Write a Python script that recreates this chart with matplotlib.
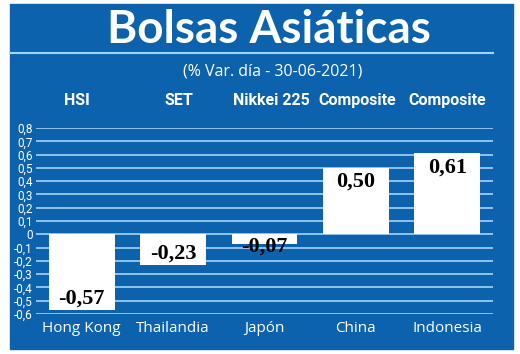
import matplotlib
matplotlib.use("Agg")
import matplotlib.pyplot as plt
from matplotlib.patches import Rectangle
from matplotlib.lines import Line2D
import numpy as np

# Data
countries = ["Hong Kong", "Thailandia", "Japón", "China", "Indonesia"]
indices = ["HSI", "SET", "Nikkei 225", "Composite", "Composite"]
values = [-0.57, -0.23, -0.07, 0.50, 0.61]
yticks = [-0.6, -0.5, -0.4, -0.3, -0.2, -0.1, 0, 0.1, 0.2, 0.3, 0.4, 0.5, 0.6, 0.7, 0.8]

BLUE = "#0d62ad"
GRID = "#a6d3f3"
W, H = 520, 354

fig = plt.figure(figsize=(W / 100, H / 100), dpi=100)
fig.patch.set_facecolor("white")

# blue panel
fig.patches.append(Rectangle((10 / W, 1 - 349 / H), 503 / W, 345 / H,
                             transform=fig.transFigure, color=BLUE, zorder=-5))
# line under title
fig.add_artist(Line2D([10 / W, 493 / W], [1 - 53 / H] * 2, transform=fig.transFigure,
                      color=GRID, lw=1.5))

fig.text(269 / W, 1 - 30 / H, "Bolsas Asiáticas", color="white", fontsize=33,
         fontweight="bold", family="Lato", ha="center", va="center")
fig.text(273 / W, 1 - 71 / H, "(% Var. día - 30-06-2021)", color="white", fontsize=11.5,
         family="Open Sans", ha="center", va="center")

ax = fig.add_axes([36 / W, 1 - 314 / H, 457 / W, 186 / H])
ax.set_facecolor("none")
for s in ax.spines.values():
    s.set_visible(False)
ax.set_xlim(-0.5, 4.5)
ax.set_ylim(-0.6, 0.8)

# gridlines
ax.hlines(yticks, -0.5, 4.5, color=GRID, lw=1.2, zorder=1)

x = np.arange(len(values))
ax.bar(x, values, width=0.72, color="white", zorder=2)

for i, v in enumerate(values):
    lab = f"{v:.2f}".replace(".", ",")
    if v >= 0:
        va, off = "top", -3
    elif abs(v) < 0.1:
        va, off = "center", -2
    else:
        va, off = "bottom", 1
    ax.annotate(lab, (i, v), xytext=(0, off), textcoords="offset points",
                ha="center", va=va, fontsize=16, fontweight="bold",
                family="Liberation Serif", color="black", zorder=3)

# index names above plot (slightly off the bar centres, as in the original)
name_shift = [-0.05, 0.06, 0.08, 0.01, 0.0]
for i, name in enumerate(indices):
    ax.text(i + name_shift[i], 1.15, name, transform=ax.get_xaxis_transform(),
            ha="center", va="center", color="white", fontsize=11.5,
            fontweight="bold", family="Roboto")

ax.set_yticks(yticks)
ax.set_yticklabels(["0" if t == 0 else f"{t:.1f}".replace(".", ",") for t in yticks],
                   color="white", fontsize=8.5, family="Roboto")
ax.set_xticks(x)
ax.set_xticklabels(countries, color="white", fontsize=11, family="Open Sans")
ax.tick_params(axis="both", length=0)
ax.tick_params(axis="y", pad=2.5)
ax.tick_params(axis="x", pad=5)

fig.savefig("out.png", dpi=100)
